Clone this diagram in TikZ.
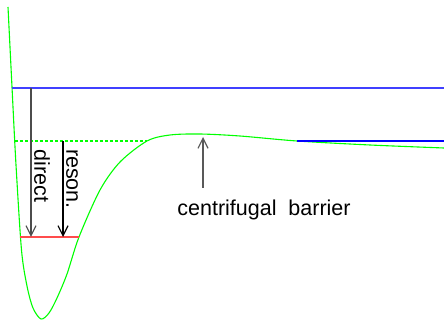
\documentclass[tikz,border=0pt]{standalone}
\usepackage{fontspec}
\setmainfont{Liberation Sans}
\usetikzlibrary{arrows.meta}
\tikzset{
	lvl/.style={line width=1.2pt},
	pot/.style={green, line width=1.1pt},
	jumpar/.style={line width=1.2pt, -{Straight Barb[length=10pt,width=10pt]}},
	lab/.style={font=\fontsize{21.5}{25}\selectfont, inner sep=0pt}
}
\begin{document}
\begin{tikzpicture}[x=1pt,y=1pt]
			\useasboundingbox (0,0) rectangle (444,321);
			
			% potential curve
			\draw[pot] plot[smooth, tension=0.5] coordinates {(8,314) (12,234) (16,156) (21.5,71) (27,35) (33,13) (41,2) (49,8) (57,23) (67,47) (79,84) (100,131) (120,159) (147,180) (170,186) (200,187) (240,185) (297,180) (370,176) (444,173)};
			
			% levels
			\coordinate (b1) at (12,233);
			\coordinate (b2) at (444,233);
			\coordinate (q1) at (297,180);
			\coordinate (q2) at (444,180);
			\coordinate (g1) at (14.8,180);
			\coordinate (g2) at (147,180);
			\coordinate (r1) at (20,84);
			\coordinate (r2) at (79,84);
			
			\draw[lvl, blue!75] (b1) -- (b2);
			\draw[lvl, blue] (q1) -- (q2);
			\draw[pot, line width=1.2pt, dash pattern=on 3pt off 2pt] (g1) -- (g2);
			\draw[lvl, red!70] (r1) -- (r2);
			
			% transitions
			\coordinate (d1) at (31,233);
			\coordinate (d2) at (31,84);
			\coordinate (s1) at (63,180);
			\coordinate (s2) at (63,84);
			
			\draw[jumpar, black!70] (d1) -- (d2);
			\draw[jumpar] (s1) -- (s2);
			
			\node[lab, rotate=-90] (direct) at (42,145) {direct};
			\node[lab, rotate=-90] (reson) at (72,142) {reson.};
			
			% barrier
			\node[lab, anchor=base] (cb) at (264,105) {centrifugal\ \ barrier};
			\coordinate (top) at (203,184);
			\coordinate (tail) at (203,133);
			\draw[jumpar, black!65] (tail) -- (top);
		\end{tikzpicture}
\end{document}
